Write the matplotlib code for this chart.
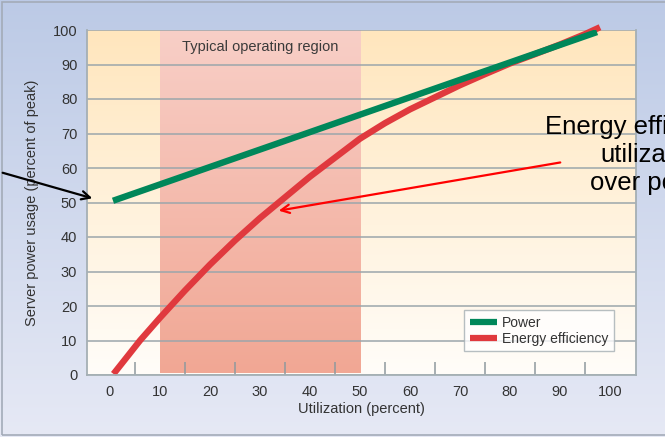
import numpy as np
import matplotlib
matplotlib.use("Agg")
import matplotlib.pyplot as plt
from matplotlib.patches import Rectangle
from matplotlib.colors import LinearSegmentedColormap

plt.rcParams['font.family'] = ['Liberation Sans', 'DejaVu Sans']

# utilization (percent) vs server power / energy efficiency (percent of peak)
power_util = [0.6, 97.4]
power_usage = [50.5, 99.4]

eff_util = [0.7, 3, 6, 10, 15, 20, 25, 30, 35, 40, 45, 50, 55, 60, 65, 70,
            75, 80, 85, 90, 95, 98]
eff_value = [0.3, 4.5, 10, 16.6, 24.5, 32, 39, 45.5, 51.5, 57.5, 63, 68.5,
             73, 77, 80.5, 84, 87.2, 90.3, 93, 95.8, 98.8, 100.8]

region = (10, 50)
x_ticks = list(range(0, 101, 10))
y_ticks = list(range(0, 101, 10))

GREEN = '#00875a'
RED = '#e0393e'
TEXT = '#333333'
GRID = '#9ba6ab'


def vgrad(top, bottom):
    cmap = LinearSegmentedColormap.from_list('g', [bottom, top])
    return cmap, np.linspace(0, 1, 256).reshape(-1, 1)


fig = plt.figure(figsize=(6.65, 4.37), dpi=100)

# figure background
bg = fig.add_axes([0, 0, 1, 1])
cmap, grad = vgrad('#bccae6', '#e6e9f5')
bg.imshow(grad, cmap=cmap, aspect='auto', extent=[0, 1, 0, 1], origin='lower')
bg.add_patch(Rectangle((2 / 665, 2 / 437), 1.1, 433 / 437, fill=False,
                       edgecolor='#a3abb8', lw=1.2))
bg.set_xlim(0, 1)
bg.set_ylim(0, 1)
bg.axis('off')

ax = fig.add_axes([87 / 665, 62 / 437, 549 / 665, 345 / 437])
xlim = (-4.6, 105.2)
ylim = (0, 100)

cmap, grad = vgrad('#ffe6bd', '#fffdf9')
ax.imshow(grad, cmap=cmap, aspect='auto', origin='lower',
          extent=[xlim[0], xlim[1], ylim[0], ylim[1]], zorder=0.1)
cmap, grad = vgrad('#f8cfc7', '#f1a794')
ax.imshow(grad, cmap=cmap, aspect='auto', origin='lower',
          extent=[region[0], region[1], 0.5, ylim[1]], zorder=0.2)
ax.text(sum(region) / 2, 95, 'Typical operating region', ha='center',
        va='center', fontsize=10.5, color='#3a3a3a')

ax.plot(power_util, power_usage, color=GREEN, lw=4.6, label='Power',
        solid_capstyle='butt', zorder=3)
ax.plot(eff_util, eff_value, color=RED, lw=4.6, label='Energy efficiency',
        solid_capstyle='butt', zorder=2, clip_on=False)

ax.set_xlim(*xlim)
ax.set_ylim(*ylim)
ax.set_axisbelow(True)
ax.yaxis.grid(True, color=GRID, lw=1.1)
ax.set_xticks(x_ticks)
ax.set_xticks(np.arange(5, 100, 10), minor=True)
ax.set_yticks(y_ticks)
ax.tick_params(axis='both', which='major', length=0, labelsize=10.5,
               labelcolor=TEXT, pad=7)
ax.tick_params(axis='x', which='minor', direction='in', length=9.5,
               width=1.1, color='#8f999e')
for side in ['left', 'bottom', 'right']:
    ax.spines[side].set_color('#a5afb4')
    ax.spines[side].set_linewidth(1.3)
ax.spines['top'].set_visible(False)

ax.set_xlabel('Utilization (percent)', fontsize=10.5, color=TEXT, labelpad=2)
ax.set_ylabel('Server power usage (percent of peak)', fontsize=10.5,
              color=TEXT, labelpad=10)

leg = ax.legend(loc='lower right', bbox_to_anchor=(0.973, 0.049),
                fontsize=10, frameon=True, fancybox=False, handlelength=2.0,
                handletextpad=0.35, borderpad=0.4, labelspacing=0.15)
leg.get_frame().set_edgecolor('#a5afb4')
leg.get_frame().set_linewidth(1.0)
for t in leg.get_texts():
    t.set_color(TEXT)
for h in leg.get_lines():
    h.set_linewidth(4.5)

# callout text runs past the right edge of the figure
fig.text(654 / 665, 1 - 155 / 437, 'Energy efficiency =\nutilization\nover power',
         ha='center', va='center', fontsize=18.5, color='black')

ax.annotate('', xy=(-3, 51), xycoords='data', xytext=(0, 1 - 172 / 437),
            textcoords='figure fraction',
            arrowprops=dict(arrowstyle='->,head_length=0.6,head_width=0.3',
                            color='black', lw=1.6), annotation_clip=False)
ax.annotate('', xy=(33.2, 47.5), xycoords='data',
            xytext=(563 / 665, 1 - 162 / 437), textcoords='figure fraction',
            arrowprops=dict(arrowstyle='->,head_length=0.6,head_width=0.3',
                            color='red', lw=1.6), annotation_clip=False)

fig.savefig('out.png', dpi=100)
